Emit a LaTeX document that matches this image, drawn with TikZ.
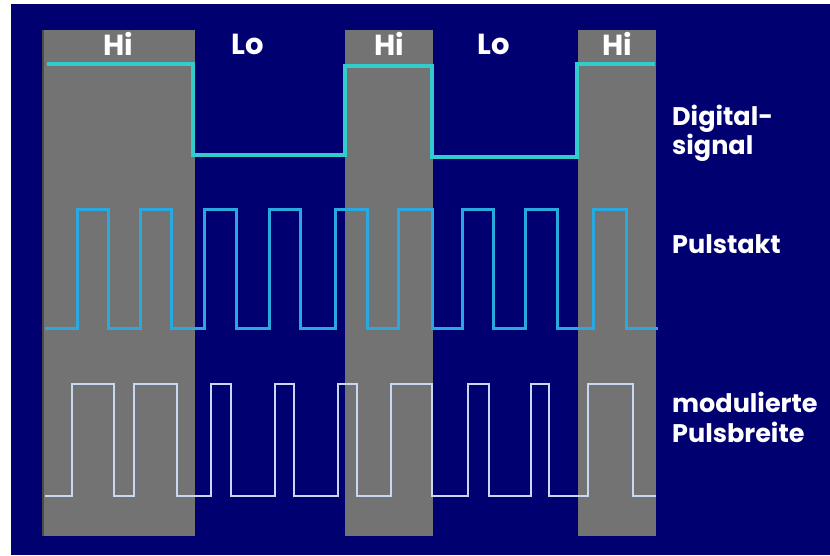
\documentclass[tikz,border=0pt]{standalone}
\usepackage{fontspec}
\setmainfont{Poppins}
\definecolor{navy}{HTML}{000070}
\definecolor{colgray}{HTML}{737373}
\definecolor{digi}{HTML}{33CCCC}
\definecolor{takt}{HTML}{2AA8E0}
\definecolor{pwm}{HTML}{C8D8F0}
\begin{document}
\begin{tikzpicture}[x=1pt,y=-1pt,
  hilo/.style={text=white,font=\fontsize{29}{29}\selectfont\bfseries,inner sep=0pt},
  lab/.style={text=white,font=\fontsize{25.5}{25.5}\selectfont\bfseries,inner sep=0pt,anchor=base west},
  sig/.style={line width=3pt,line join=miter}]
\useasboundingbox (0,0) rectangle (830,555);
\fill[white] (0,0) rectangle (830,555);
\fill[navy] (11,4) rectangle (830,555);
\fill[colgray] (42,30) rectangle (195,536);
\fill[colgray] (345,30) rectangle (433,536);
\fill[colgray] (578,30) rectangle (656,536);
\draw[black!70,line width=1.5pt] (42.75,30) -- (42.75,536);
\node[hilo] (hi1) at (118,44) {Hi};
\node[hilo] (lo1) at (248,44) {Lo};
\node[hilo] (hi2) at (389,44) {Hi};
\node[hilo] (lo2) at (494,44) {Lo};
\node[hilo] (hi3) at (617,44) {Hi};
\draw[sig,digi,line width=3.4pt] (47,64) -| (193,155) -| (345,66) -| (432,157) -| (577,64) -- (655,64);
\draw[sig,takt] (45,328) -| (77,209) -| (108,328) -| (140,209) -| (171,328) -| (204,209) -| (236,328) -| (269,209) -| (300,328) -| (335,209) -| (367,328) -| (398,209) -| (432,328) -| (462,209) -| (493,328) -| (525,209) -| (557,328) -| (593,209) -| (626,328) -- (658,328);
\draw[sig,pwm,line width=2.6pt] (45,496) -| (72,384) -| (114,496) -| (134,384) -| (177,496) -| (211,384) -| (231,496) -| (275,384) -| (294,496) -| (338,384) -| (357,496) -| (391,384) -| (432,496) -| (468,384) -| (489,496) -| (531,384) -| (549,496) -| (588,384) -| (633,496) -- (656,496);
\node[lab] (dig1) at (672,125) {Digital-};
\node[lab] (dig2) at (672,154) {signal};
\node[lab] (puls) at (672,253) {Pulstakt};
\node[lab] (mod1) at (672,412) {modulierte};
\node[lab] (mod2) at (672,442) {Pulsbreite};
\end{tikzpicture}
\end{document}
